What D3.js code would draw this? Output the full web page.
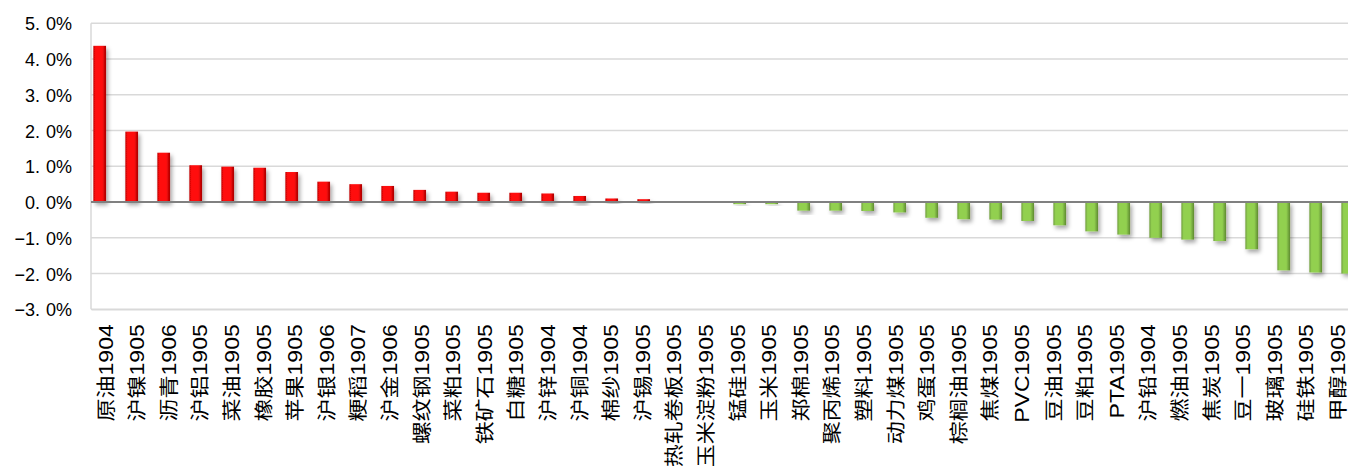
<!DOCTYPE html>
<html><head><meta charset="utf-8">
<script src="https://cdn.jsdelivr.net/npm/d3@7"></script>
<style>
html,body{margin:0;padding:0;background:#fff;overflow:hidden;}
svg{display:block;}
</style></head>
<body>
<svg id="chart" width="1348" height="466"></svg>
<script>
const categories = ["原油1904","沪镍1905","沥青1906","沪铝1905","菜油1905","橡胶1905","苹果1905","沪银1906","粳稻1907","沪金1906","螺纹钢1905","菜粕1905","铁矿石1905","白糖1905","沪锌1904","沪铜1904","棉纱1905","沪锡1905","热轧卷板1905","玉米淀粉1905","锰硅1905","玉米1905","郑棉1905","聚丙烯1905","塑料1905","动力煤1905","鸡蛋1905","棕榈油1905","焦煤1905","PVC1905","豆油1905","豆粕1905","PTA1905","沪铅1904","燃油1905","焦炭1905","豆一1905","玻璃1905","硅铁1905","甲醇1905"];
const values = [4.37,1.97,1.38,1.03,0.99,0.96,0.84,0.57,0.50,0.45,0.34,0.29,0.26,0.26,0.24,0.17,0.10,0.08,0,0,-0.06,-0.06,-0.24,-0.24,-0.25,-0.29,-0.44,-0.48,-0.49,-0.53,-0.65,-0.82,-0.91,-1.00,-1.05,-1.09,-1.32,-1.91,-1.97,-2.00];
const yTicks = [5,4,3,2,1,0,-1,-2,-3];
const yTickLabels = ["5.0%","4.0%","3.0%","2.0%","1.0%","0.0%","−1.0%","−2.0%","−3.0%"];

const svg = d3.select("#chart");
const plotL = 91, plotR = 1355, plotT = 23.3, plotB = 309.3;

const y = d3.scaleLinear().domain([-3,5]).range([plotB, plotT]);
const xLabel = d3.scaleBand().domain(categories).range([plotL, plotR]);
const xBar = d3.scaleBand().domain(categories).range([83.7, 1363.7]);
const barW = 12.7;

const defs = svg.append("defs");
function grad(id, edge, mid, edge2){
  const g = defs.append("linearGradient").attr("id", id).attr("x1","0").attr("x2","1").attr("y1","0").attr("y2","0");
  g.append("stop").attr("offset","0%").attr("stop-color", edge);
  g.append("stop").attr("offset","18%").attr("stop-color", mid);
  g.append("stop").attr("offset","70%").attr("stop-color", mid);
  g.append("stop").attr("offset","100%").attr("stop-color", edge2);
}
grad("gRed", "#c00000", "#ff0d0d", "#a80000");
grad("gGreen", "#6f9e3c", "#92d050", "#5e8a30");
const f = defs.append("filter").attr("id","shadow").attr("x","-50%").attr("y","-50%").attr("width","200%").attr("height","200%");
f.append("feDropShadow").attr("dx",2).attr("dy",3).attr("stdDeviation",2).attr("flood-color","#000").attr("flood-opacity",0.35);

// gridlines
svg.append("g").selectAll("line").data(yTicks.filter(t => t !== 0)).join("line")
  .attr("x1", plotL).attr("x2", 1348)
  .attr("y1", d => y(d)).attr("y2", d => y(d))
  .attr("stroke", "#d9d9d9").attr("stroke-width", 1.5);
// left axis line
svg.append("line").attr("x1", plotL).attr("x2", plotL).attr("y1", plotT).attr("y2", plotB)
  .attr("stroke", "#d9d9d9").attr("stroke-width", 1.5);

// y labels
const yAxis = d3.axisLeft(y).tickValues(yTicks).tickSize(0).tickPadding(19).tickFormat(() => "");
const ya = svg.append("g").attr("transform", `translate(${plotL},0)`).call(yAxis);
ya.select(".domain").remove();
ya.selectAll("text").each(function(d){
  const lab = yTickLabels[yTicks.indexOf(d)];
  const dot = lab.indexOf(".");
  const t = d3.select(this)
    .attr("font-family", "'Liberation Sans', Arial, sans-serif").attr("font-size", 18).attr("fill", "#000")
    .attr("dy", "0.36em");
  t.append("tspan").text(lab.slice(0, dot + 1));
  t.append("tspan").attr("dx", 6).text(lab.slice(dot + 1));
});

// bars
svg.append("g").selectAll("rect").data(categories.map((c,i) => ({c, v: values[i]}))).join("rect")
  .attr("x", d => xBar(d.c) + xBar.bandwidth()/2 - barW/2)
  .attr("width", barW)
  .attr("y", d => y(Math.max(0, d.v)))
  .attr("height", d => Math.abs(y(d.v) - y(0)))
  .attr("fill", d => d.v >= 0 ? "url(#gRed)" : "url(#gGreen)")
  .attr("filter", "url(#shadow)");

// zero line
svg.append("line").attr("x1", plotL).attr("x2", 1348).attr("y1", y(0)).attr("y2", y(0))
  .attr("stroke", "#808080").attr("stroke-width", 2);

// x labels
const xAxis = d3.axisBottom(xLabel).tickSize(0);
const xa = svg.append("g").attr("transform", `translate(0,${plotB})`).call(xAxis);
xa.select(".domain").attr("stroke", "#d9d9d9").attr("stroke-width", 1.5);
xa.selectAll("text")
  .attr("font-family", "'Liberation Sans', 'Noto Sans CJK SC', sans-serif")
  .attr("font-size", 23).attr("fill", "#000")
  .attr("text-anchor", "end")
  .attr("y", 0).attr("x", 0).attr("dy", 0)
  .attr("transform", "translate(-1,15) rotate(-90) scale(1,0.84)")
  .attr("dominant-baseline", "central");
</script>
</body></html>
